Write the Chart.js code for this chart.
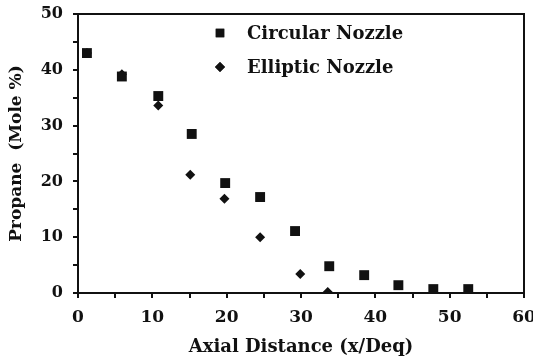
<!DOCTYPE html>
<html>
<head>
<meta charset="utf-8">
<script src="https://cdn.jsdelivr.net/npm/chart.js@4"></script>
<style>
  html, body { margin: 0; padding: 0; background: #fff; }
  #wrap { width: 533px; height: 358px; }
</style>
</head>
<body>
<div id="wrap"><canvas id="propaneChart" width="533" height="358"></canvas></div>
<script>
// data
const circularX = [1.2, 5.9, 10.8, 15.3, 19.8, 24.5, 29.2, 33.8, 38.5, 43.1, 47.8, 52.5];
const circularY = [43.0, 38.8, 35.3, 28.5, 19.7, 17.2, 11.1, 4.8, 3.2, 1.4, 0.7, 0.7];
const ellipticX = [1.2, 5.9, 10.8, 15.1, 19.7, 24.5, 29.9, 33.6];
const ellipticY = [43.0, 39.2, 33.6, 21.2, 16.9, 10.0, 3.4, 0.2];
const seriesNames = ['Circular Nozzle', 'Elliptic Nozzle'];
const xTitle = 'Axial Distance (x/Deq)';
const yTitle = 'Propane  (Mole %)';

const ink = '#111';
const font = "'DejaVu Serif', serif";

function toPoints(xs, ys) {
  return xs.map((x, i) => ({ x: x, y: ys[i] }));
}

// box around the plot + legend inside it
const framePlugin = {
  id: 'frame',
  afterDraw(chart) {
    const ctx = chart.ctx;
    const a = chart.chartArea;
    ctx.save();
    ctx.strokeStyle = ink;
    ctx.lineWidth = 2;
    ctx.strokeRect(a.left, a.top, a.right - a.left, a.bottom - a.top);

    // legend
    const rows = [{ y: 33, ds: 0, r: 6 }, { y: 67, ds: 1, r: 5 }];
    ctx.font = 'bold 18px ' + font;
    ctx.textBaseline = 'middle';
    rows.forEach(row => {
      const ds = chart.data.datasets[row.ds];
      ctx.beginPath();
      Chart.helpers.drawPoint(ctx, {
        pointStyle: ds.pointStyle, radius: row.r, borderWidth: 0
      }, 220, row.y);
      ctx.fillStyle = ink;
      ctx.fill();
      ctx.fillText(ds.label, 247, row.y + 1);
    });
    ctx.restore();
  }
};

new Chart(document.getElementById('propaneChart'), {
  type: 'scatter',
  data: {
    datasets: [
      {
        label: seriesNames[0],
        data: toPoints(circularX, circularY),
        pointStyle: 'rect',
        pointRadius: 7,
        backgroundColor: ink,
        borderColor: ink,
        borderWidth: 0
      },
      {
        label: seriesNames[1],
        data: toPoints(ellipticX, ellipticY),
        pointStyle: 'rectRot',
        pointRadius: 5,
        backgroundColor: ink,
        borderColor: ink,
        borderWidth: 0
      }
    ]
  },
  options: {
    responsive: false,
    animation: false,
    layout: { padding: { top: 14, right: 9, left: 0, bottom: 0 } },
    plugins: {
      legend: { display: false },
      tooltip: { enabled: false }
    },
    scales: {
      x: {
        type: 'linear',
        min: 0,
        max: 60,
        afterFit(scale) {
          scale.height = 65;
          scale.paddingLeft = 0;
          scale.paddingRight = 0;
        },
        border: { color: ink, width: 2 },
        grid: { drawOnChartArea: false, tickLength: 5, color: ink, lineWidth: 2 },
        ticks: {
          stepSize: 5,
          color: ink,
          font: { family: font, size: 17, weight: 'bold' },
          padding: 9,
          maxRotation: 0,
          callback: v => (v % 10 === 0 ? v : '')
        },
        title: {
          display: true,
          text: xTitle,
          color: ink,
          font: { family: font, size: 18, weight: 'bold' },
          padding: { top: 0, bottom: 0 }
        }
      },
      y: {
        type: 'linear',
        min: 0,
        max: 50,
        afterFit(scale) {
          scale.width = 78;
          scale.paddingTop = 0;
          scale.paddingBottom = 0;
        },
        border: { color: ink, width: 2 },
        grid: { drawOnChartArea: false, tickLength: 5, color: ink, lineWidth: 2 },
        ticks: {
          stepSize: 5,
          color: ink,
          font: { family: font, size: 16, weight: 'bold' },
          padding: 10,
          callback: v => (v % 10 === 0 ? v : '')
        },
        title: {
          display: true,
          text: yTitle,
          color: ink,
          font: { family: font, size: 17, weight: 'bold' },
          padding: { top: 6, bottom: 0 }
        }
      }
    }
  },
  plugins: [framePlugin]
});
</script>
</body>
</html>
